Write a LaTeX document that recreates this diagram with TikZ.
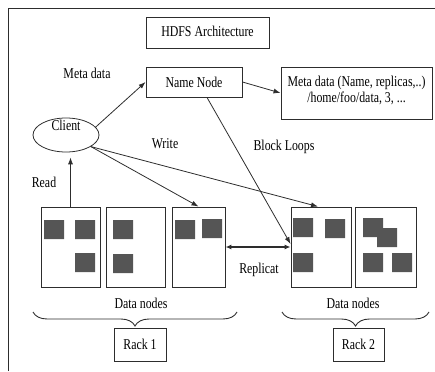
\documentclass[tikz,border=0pt]{standalone}
\usepackage{fontspec}
\setmainfont{Liberation Serif}[FakeStretch=0.79]
\usetikzlibrary{arrows.meta,decorations.pathreplacing,shapes.geometric}
\definecolor{blockgray}{RGB}{85,85,85}
\definecolor{linegray}{RGB}{45,45,45}

\begin{document}
\begin{tikzpicture}[x=1pt, y=-1pt, font=\fontsize{15}{16}\selectfont,
        box/.style={draw=linegray, line width=0.9pt, inner sep=0pt},
        arr/.style={draw=linegray, line width=0.8pt, -{Latex[length=7pt,width=5pt]}},
        rackbrace/.style={draw=linegray, line width=0.9pt, decorate, decoration={brace, mirror, amplitude=14pt}}]
        \useasboundingbox (0,0) rectangle (435,371);
        \draw[linegray, line width=0.9pt] (8,371) -- (8,8) -- (435,8);
        % top row
        \node[box, minimum width=123pt, minimum height=31pt, label={[yshift=1pt]center:HDFS Architecture}] (title) at (207.5,32.5) {};
        \node[box, minimum width=96pt, minimum height=30pt] (nn) at (194,82) {Name Node};
        \node[box, minimum width=151pt, minimum height=52pt, label={[align=center, yshift=2.5pt]center:Meta data (Name, replicas,..)\\/home/foo/data, 3, ...}] (meta) at (356.5,93) {};
        \node[draw=linegray, line width=0.8pt, ellipse, minimum width=66pt, minimum height=34pt, label={[yshift=10pt]center:Client}] (cl) at (66,135) {};
        % data nodes
        \node[box, minimum width=59pt, minimum height=80pt] (d1) at (70.5,247) {};
        \node[box, minimum width=59pt, minimum height=80pt] (d2) at (135.5,247) {};
        \node[box, minimum width=53pt, minimum height=80pt] (d3) at (198.5,247) {};
        \node[box, minimum width=60pt, minimum height=80pt] (d4) at (321,247) {};
        \node[box, minimum width=61pt, minimum height=80pt] (d5) at (385.5,247) {};
        \fill[blockgray] (44,220) rectangle ++(20,19) (75,220) rectangle ++(20,19) (75,253) rectangle ++(20,19)
            (113,220) rectangle ++(20,19) (113,254) rectangle ++(20,19)
            (175,220) rectangle ++(20,19) (202,219) rectangle ++(20,19)
            (293,218) rectangle ++(20,19) (325,219) rectangle ++(20,19) (293,253) rectangle ++(20,19)
            (363,218) rectangle ++(20,19) (377,228) rectangle ++(20,19) (363,253) rectangle ++(20,19) (392,253) rectangle ++(20,19);
        % labels
        \node (mdlbl) at (87,73) {Meta data};
        \node (wrlbl) at (165,144) {Write};
        \node (bllbl) at (284,147) {Block Loops};
        \node (rdlbl) at (44,182) {Read};
        \node (replbl) at (259,270) {Replicat};
        % racks
        \draw[rackbrace] (33,312) -- (237,312);
        \draw[rackbrace] (282,312) -- (429,312);
        \node (dn1) at (141,303) {Data nodes};
        \node (dn2) at (353,303) {Data nodes};
        \node[box, minimum width=52pt, minimum height=33pt] (r1) at (140,344.5) {Rack 1};
        \node[box, minimum width=51pt, minimum height=33pt] (r2) at (358.5,344.5) {Rack 2};
        % connectors
        \draw[arr] (cl.15) -- (nn.west);
        \draw[arr] (nn.east) -- (meta.west);
        \draw[arr] ([xshift=13pt]nn.south) -- ([yshift=3pt]d4.west);
        \draw[arr] (cl.-25) -- (d3.north);
        \draw[arr] (cl.-25) -- ([xshift=-3pt]d4.north);
        \draw[arr, shorten >=5pt] (d1.north) -- (d1.north |- cl.south);
        \draw[linegray, line width=1.8pt, {Latex[length=6pt,width=5pt]}-{Latex[length=6pt,width=5pt]}] (d3.east) -- (d4.west);
    \end{tikzpicture}
\end{document}
